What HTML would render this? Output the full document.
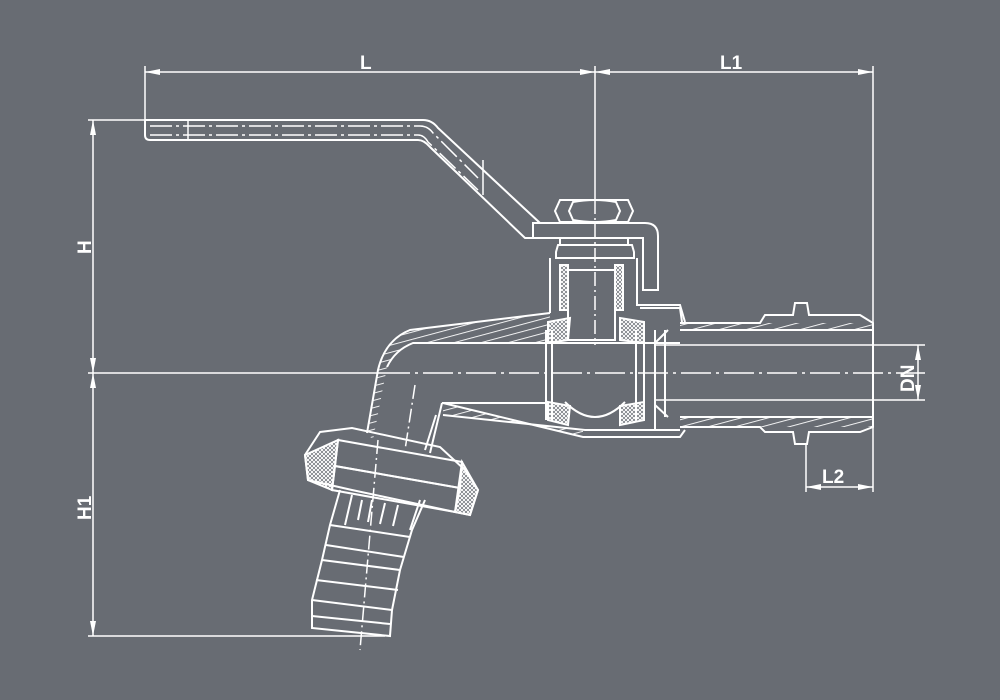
<!DOCTYPE html>
<html><head><meta charset="utf-8"><style>
html,body{margin:0;padding:0;background:#686c73;}
svg{display:block}
text{font-family:"Liberation Sans",sans-serif;font-weight:bold;fill:#fff;font-size:19px}
</style></head><body>
<svg width="1000" height="700" viewBox="0 0 1000 700" xmlns="http://www.w3.org/2000/svg">
<defs>
<pattern id="h" width="7" height="7" patternUnits="userSpaceOnUse" patternTransform="rotate(75)">
<line x1="0" y1="0" x2="0" y2="7" stroke="#fff" stroke-width="1.8"/></pattern>
<pattern id="x" width="4" height="4" patternUnits="userSpaceOnUse">
<path d="M0 0L4 4M4 0L0 4" stroke="#fff" stroke-width="1"/></pattern>
</defs>
<g stroke="#fff" fill="none" stroke-width="1.5">
<line x1="145" y1="72" x2="873" y2="72"/>
<line x1="145" y1="66" x2="145" y2="120"/>
<line x1="595" y1="66" x2="595" y2="200"/>
<line x1="873" y1="66" x2="873" y2="492"/>
<line x1="88" y1="120" x2="145" y2="120"/>
<line x1="93" y1="120" x2="93" y2="636"/>
<line x1="88" y1="636" x2="385" y2="636"/>
<line x1="88" y1="373" x2="380" y2="373"/>
<line x1="380" y1="373" x2="925" y2="373" stroke-dasharray="30 5 3 5"/>
<line x1="655" y1="345" x2="925" y2="345"/>
<line x1="655" y1="400" x2="925" y2="400"/>
<line x1="918" y1="345" x2="918" y2="400"/>
<line x1="806" y1="445" x2="806" y2="492"/>
<line x1="806" y1="487" x2="873" y2="487"/>
</g>
<g stroke="#fff" fill="none" stroke-width="2">
<!-- handle -->
<path d="M145 120 H423 Q432 120 438 128 L540 223 M145 120 V135 Q145 140 150 140 H418 Q424 140 430 147 L525 238 H533"/>
<line x1="188" y1="120" x2="188" y2="140" stroke-width="1.5"/>
<path d="M150 126 H420 Q428 126 433 133 L478 178 M150 135 H418 Q424 135 428 142 L478 190" stroke-dasharray="22 4 3 4" stroke-width="1.5"/>
<line x1="483" y1="160" x2="483" y2="195" stroke-width="1.5"/>
<!-- plate + hook -->
<path d="M533 223 H645 Q658 223 658 236 V290 H643 V238 H533 Z"/>
<path d="M560 200 H628 L633 211 L628 222 H560 L555 211 Z"/>
<path d="M573 202 Q595 198 616 202 L620 211 L616 220 Q595 224 573 220 L569 211 Z"/>
<path d="M558 245 H632 L634 252 V258 H556 V252 Z"/>
<line x1="560" y1="238" x2="560" y2="245"/><line x1="628" y1="238" x2="628" y2="245"/>
<path d="M550 258 V313 M637 258 V305 H680 L685 322"/>
<rect x="568" y="270" width="47" height="70"/>
<line x1="595" y1="200" x2="595" y2="345" stroke-dasharray="14 4 2 4" stroke-width="1.5"/>
<rect x="560" y="265" width="8" height="45" fill="url(#x)"/>
<rect x="615" y="265" width="8" height="45" fill="url(#x)"/>
<path d="M367 433 L378 370 Q385 340 410 330 L550 313" />
<path d="M387 367 Q395 350 413 343 H680"/>
<path d="M410 330 L550 313 L550 343 L413 343 Z" fill="url(#h)" stroke="none"/>
<path d="M367 433 L378 370 Q385 340 410 330 L413 343 Q395 350 387 367 L373 440 Z" fill="url(#h)" stroke="none"/>
<line x1="546" y1="330" x2="546" y2="420"/>
<line x1="552" y1="330" x2="552" y2="420"/>
<line x1="636" y1="330" x2="636" y2="420"/>
<line x1="644" y1="330" x2="644" y2="420"/>
<line x1="655" y1="330" x2="655" y2="430"/>
<path d="M548 322 L570 318 L568 340 L548 343 Z" fill="url(#x)"/>
<path d="M620 318 L644 322 L644 343 L620 340 Z" fill="url(#x)"/>
<path d="M548 402 L570 406 L568 425 L548 420 Z" fill="url(#x)"/>
<path d="M620 406 L644 402 L644 420 L620 425 Z" fill="url(#x)"/>
<path d="M565 402 Q595 432 625 402"/>
<path d="M640 308 L680 308 L682 322"/>
<path d="M442 403 H546 M443 403 L583 437 H680 L685 430"/>
<path d="M443 415 L585 430 H680"/>
<path d="M443 403 L583 437 L583 430 L443 415 Z" fill="url(#h)" stroke="none"/>
<path d="M442 403 L430 453 M436 415 L425 450"/>
<path d="M680 323 H760 L765 315 H793 L795 303 H807 L809 315 H860 L873 323 V427 L860 432 H809 L807 444 H795 L793 432 H765 L760 427 H680"/>
<line x1="680" y1="330" x2="873" y2="330"/>
<line x1="680" y1="417" x2="873" y2="417"/>
<rect x="680" y="323" width="193" height="7" fill="url(#h)" stroke="none"/>
<rect x="680" y="417" width="193" height="10" fill="url(#h)" stroke="none"/>
<line x1="665" y1="330" x2="665" y2="417"/>
<path d="M655 343 L668 330 M655 405 L668 417"/>
<path d="M415 385 L405 450" stroke-dasharray="14 4 2 4" stroke-width="1.5"/>
<path d="M320 432 L352 428 L440 447 L465 470 L478 490 L470 515 L455 512 L352 490 L308 480 L305 455 Z"/>
<path d="M338 440 L462 462 L460 488 L335 466 Z"/>
<path d="M335 466 L460 488 L455 512 L332 490 Z"/>
<path d="M305 455 L338 440 L332 490 L308 480 Z" fill="url(#x)"/>
<path d="M462 462 L478 490 L470 515 L455 512 Z" fill="url(#x)"/>
<path d="M340 490 L330 525 L322 560 L312 600 L312 628 L390 636 L392 610 L400 570 L412 530 L425 500"/>
<path d="M352 495 L345 525 M420 500 L410 530 M362 500 L358 520 M372 500 L368 522 M385 503 L380 524 M398 505 L393 526"/>
<path d="M330 525 L410 537 M326 545 L404 557 M322 560 L400 570 M316 580 L398 590 M312 600 L392 610 M312 616 L390 624"/>
<line x1="378" y1="440" x2="360" y2="650" stroke-dasharray="14 4 2 4" stroke-width="1.5"/>
</g>
<g fill="#fff">
<path d="M145 72 L160 69 L160 75 Z"/><path d="M595 72 L580 69 L580 75 Z"/>
<path d="M595 72 L610 69 L610 75 Z"/><path d="M873 72 L858 69 L858 75 Z"/>
<path d="M93 120 L90 135 L96 135 Z"/><path d="M93 373 L90 358 L96 358 Z"/>
<path d="M93 373 L90 388 L96 388 Z"/><path d="M93 636 L90 621 L96 621 Z"/>
<path d="M918 345 L915 360 L921 360 Z"/><path d="M918 400 L915 385 L921 385 Z"/>
<path d="M806 487 L821 484 L821 490 Z"/><path d="M873 487 L858 484 L858 490 Z"/>
</g>
<text x="360" y="69">L</text>
<text x="720" y="69">L1</text>
<text x="822" y="483">L2</text>
<text transform="translate(91,254) rotate(-90)">H</text>
<text transform="translate(91,520) rotate(-90)">H1</text>
<text transform="translate(914,392) rotate(-90)">DN</text>
</svg>
</body></html>
